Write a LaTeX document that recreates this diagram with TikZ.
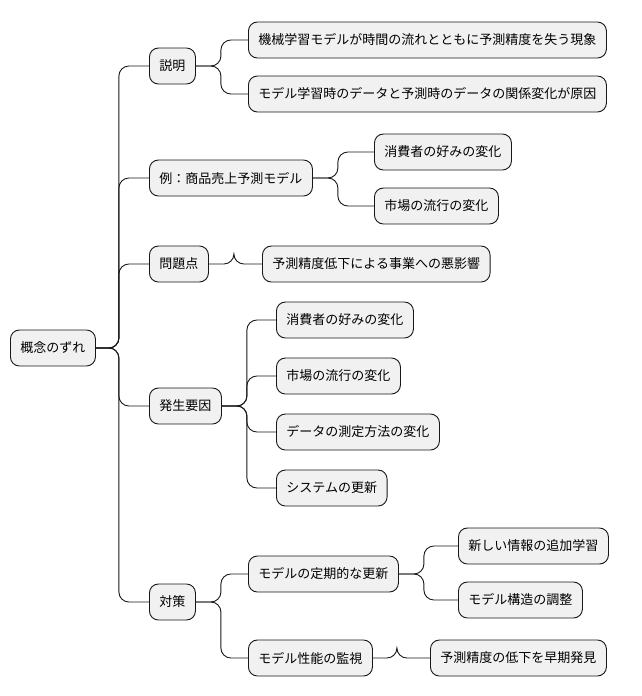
\documentclass[tikz,border=0pt]{standalone}
\usepackage{fontspec}
\setmainfont{Noto Sans CJK JP}
\definecolor{boxfill}{HTML}{F1F1F1}
\definecolor{boxline}{HTML}{181818}

\begin{document}
\begin{tikzpicture}[x=1pt,y=-1pt]
    \tikzstyle{idea}=[draw=boxline, fill=boxfill, rounded corners=9pt, line width=0.9pt,
        minimum height=36pt, inner xsep=10pt, anchor=west, font=\fontsize{13pt}{15pt}\selectfont]
    \tikzstyle{link}=[draw=boxline, line width=0.9pt, rounded corners=10pt]

    \useasboundingbox (0,0) rectangle (642,696);

    % root and first level
    \node[idea] (root) at (10,348) {概念のずれ};
    \node[idea] (expl) at (149,66) {説明};
    \node[idea] (exam) at (149,178) {例：商品売上予測モデル};
    \node[idea] (prob) at (149,264) {問題点};
    \node[idea] (caus) at (149,406) {発生要因};
    \node[idea] (meas) at (149,602) {対策};

    % second level
    \node[idea] (expl-1) at (248,40) {機械学習モデルが時間の流れとともに予測精度を失う現象};
    \node[idea] (expl-2) at (248,94) {モデル学習時のデータと予測時のデータの関係変化が原因};
    \node[idea] (exam-1) at (374,152) {消費者の好みの変化};
    \node[idea] (exam-2) at (374,206) {市場の流行の変化};
    \node[idea] (prob-1) at (262,264) {予測精度低下による事業への悪影響};
    \node[idea] (caus-1) at (276,320) {消費者の好みの変化};
    \node[idea] (caus-2) at (276,376) {市場の流行の変化};
    \node[idea] (caus-3) at (276,432) {データの測定方法の変化};
    \node[idea] (caus-4) at (276,488) {システムの更新};
    \node[idea] (meas-1) at (248,574) {モデルの定期的な更新};
    \node[idea] (meas-2) at (248,658) {モデル性能の監視};

    % third level
    \node[idea] (upd-1) at (458,546) {新しい情報の追加学習};
    \node[idea] (upd-2) at (458,600) {モデル構造の調整};
    \node[idea] (mon-1) at (430,658) {予測精度の低下を早期発見};

    \foreach \source/\dest/\gap in {root/expl/23, root/exam/23, root/prob/23, root/caus/23, root/meas/23,
        expl/expl-1/25, expl/expl-2/25, exam/exam-1/25, exam/exam-2/25, prob/prob-1/25,
        caus/caus-1/25, caus/caus-2/25, caus/caus-3/25, caus/caus-4/25,
        meas/meas-1/25, meas/meas-2/25, meas-1/upd-1/25, meas-1/upd-2/25, meas-2/mon-1/24}
        \path[link] (\source.east) -- ++(\gap,0) |- (\dest.west);
\end{tikzpicture}
\end{document}
